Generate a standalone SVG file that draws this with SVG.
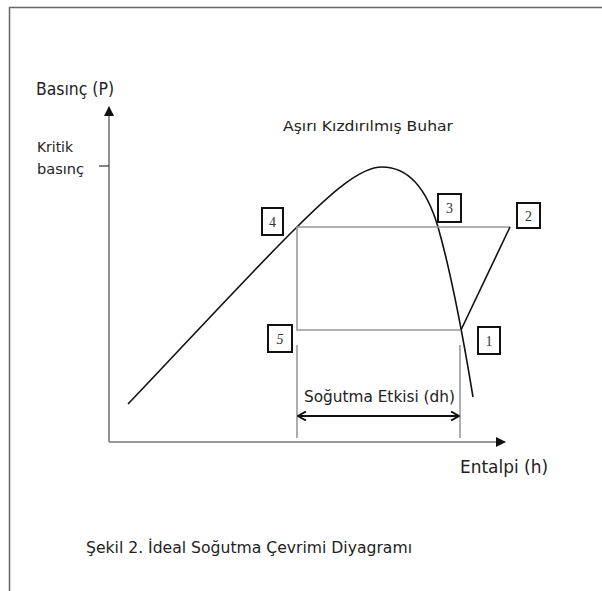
<svg xmlns="http://www.w3.org/2000/svg" width="602" height="591" viewBox="0 0 602 591">
<defs>
<marker id="ah" viewBox="0 0 10 10" refX="9" refY="5" markerWidth="10" markerHeight="10" markerUnits="userSpaceOnUse" orient="auto-start-reverse"><path d="M0,0 L10,5 L0,10 z" fill="#111"/></marker>
<marker id="dh" viewBox="0 0 10 10" refX="9" refY="5" markerWidth="10" markerHeight="10" markerUnits="userSpaceOnUse" orient="auto-start-reverse"><path d="M1,0.5 L9,5 L1,9.5" fill="none" stroke="#111" stroke-width="2"/></marker>
</defs>
<style>
.t{font-family:"DejaVu Sans Condensed","DejaVu Sans",Verdana,sans-serif;fill:#222}
.box{fill:#fff;stroke:#111;stroke-width:2}
.num{font-family:"Liberation Serif",serif;font-size:14px;fill:#333;text-anchor:middle}
.gray{stroke:#999;stroke-width:1.6;fill:none}
.blk{stroke:#111;stroke-width:1.6;fill:none}
</style>
<rect width="602" height="591" fill="#fff"/>
<path d="M9.5,591 V7.5 H602" fill="none" stroke="#666" stroke-width="1.5"/>
<g id="connectors">
<line x1="109" y1="442" x2="109" y2="107" stroke="#777" stroke-width="1.6" marker-end="url(#ah)"/>
<line x1="109" y1="442" x2="505" y2="442" stroke="#777" stroke-width="1.6" marker-end="url(#ah)"/>
<line x1="99" y1="166" x2="109" y2="166" stroke="#333" stroke-width="1.2"/>
<path class="blk" d="M128,404 C175,355 255,268 297,227 C330,194 360,167 382,167 C415,167 430,200 438,227 C448,262 462,330 473,397" stroke-width="2"/>
<path class="gray" d="M297,227 H510 M297,227 V330 H461"/>
<line class="blk" x1="510" y1="227" x2="461" y2="330" stroke-width="1.4"/>
<line class="gray" x1="297" y1="345" x2="297" y2="438"/>
<line class="gray" x1="460" y1="345" x2="460" y2="438"/>
<line x1="298" y1="416" x2="459" y2="416" stroke="#111" stroke-width="2" marker-start="url(#dh)" marker-end="url(#dh)"/>
</g>
<g id="n1"><rect class="box" x="478" y="327" width="22" height="27"/><text class="num" x="489" y="346">1</text></g>
<g id="n2"><rect class="box" x="517" y="203" width="23" height="25"/><text class="num" x="528.5" y="221">2</text></g>
<g id="n3"><rect class="box" x="438" y="194" width="23" height="28"/><text class="num" x="449.5" y="213">3</text></g>
<g id="n4"><rect class="box" x="262" y="208" width="21" height="27"/><text class="num" x="272.5" y="227">4</text></g>
<g id="n5"><rect class="box" x="268" y="325" width="24" height="27"/><text class="num" x="280" y="344" font-style="italic">5</text></g>
<text class="t" x="36" y="95" font-size="18.5" textLength="78" lengthAdjust="spacingAndGlyphs">Basınç (P)</text>
<text class="t" x="37" y="152" font-size="14.5" textLength="36" lengthAdjust="spacingAndGlyphs">Kritik</text>
<text class="t" x="37" y="174" font-size="14.5" textLength="47" lengthAdjust="spacingAndGlyphs">basınç</text>
<text class="t" x="283" y="131" font-size="14" textLength="170" lengthAdjust="spacingAndGlyphs">Aşırı Kızdırılmış Buhar</text>
<text class="t" x="304" y="402" font-size="15" textLength="151" lengthAdjust="spacingAndGlyphs">Soğutma Etkisi (dh)</text>
<text class="t" x="460" y="473" font-size="18.5" textLength="88" lengthAdjust="spacingAndGlyphs">Entalpi (h)</text>
<text class="t" x="86" y="553" font-size="16.5" textLength="326" lengthAdjust="spacingAndGlyphs">Şekil 2. İdeal Soğutma Çevrimi Diyagramı</text>
</svg>
